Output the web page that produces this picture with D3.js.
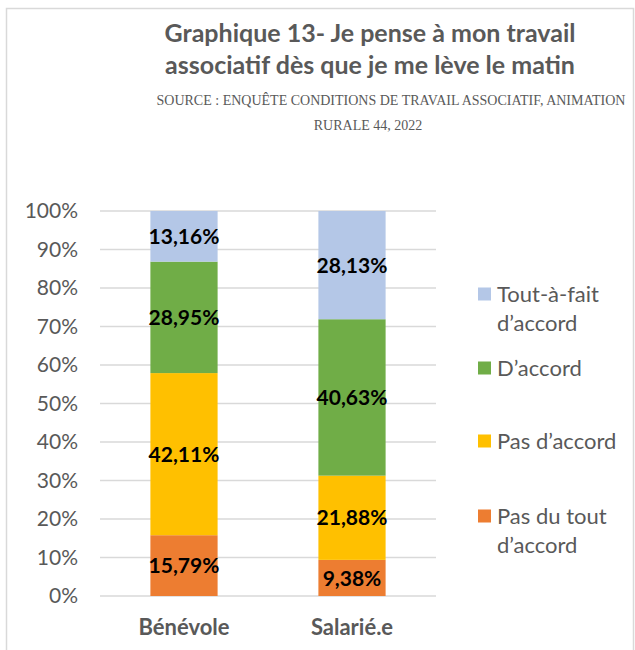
<!DOCTYPE html>
<html>
<head>
<meta charset="utf-8">
<script src="https://cdn.jsdelivr.net/npm/d3@7"></script>
<style>
  body { margin: 0; background: #fff; }
  svg text { font-family: Lato, "Open Sans", sans-serif; }
</style>
</head>
<body>
<div id="chart"></div>
<script>
var categories = ["Bénévole", "Salarié.e"]
var seriesNames = ["Pas du tout d’accord", "Pas d’accord", "D’accord", "Tout-à-fait d’accord"]
var pasDuTout = [15.79, 9.38]
var pasDaccord = [42.11, 21.88]
var daccord = [28.95, 40.63]
var toutAFait = [13.16, 28.13]
var yTicks = [0, 10, 20, 30, 40, 50, 60, 70, 80, 90, 100]
var colors = ["#ED7D31", "#FFC000", "#70AD47", "#B4C7E7"]
var legendLines = [["Pas du tout", "d’accord"], ["Pas d’accord"], ["D’accord"], ["Tout-à-fait", "d’accord"]]

var width = 635, height = 650
var svg = d3.select("#chart").append("svg")
    .attr("width", width)
    .attr("height", height)

// outer frame
svg.append("rect")
  .attr("x", 6.5).attr("y", 8.5)
  .attr("width", 627).attr("height", 660)
  .attr("fill", "none")
  .attr("stroke", "#d9d9d9")
  .attr("stroke-width", 1.5)

// title
var title = ["Graphique 13- Je pense à mon travail", "associatif dès que je me lève le matin"]
svg.selectAll(".title").data(title).enter().append("text")
  .attr("x", 370)
  .attr("y", function(d, i) { return 42 + i * 32 })
  .attr("text-anchor", "middle")
  .attr("font-size", 25)
  .attr("font-weight", "bold")
  .attr("fill", "#595959")
  .text(function(d) { return d })

var source = [
  {t: "SOURCE : ENQUÊTE CONDITIONS DE TRAVAIL ASSOCIATIF, ANIMATION", x: 391, y: 105},
  {t: "RURALE 44, 2022", x: 368, y: 130}
]
svg.selectAll(".source").data(source).enter().append("text")
  .attr("x", function(d) { return d.x })
  .attr("y", function(d) { return d.y })
  .attr("text-anchor", "middle")
  .attr("font-size", 14)
  .attr("fill", "#595959")
  .style("font-family", "'Liberation Serif', 'DejaVu Serif', serif")
  .text(function(d) { return d.t })

var plot = {left: 100, right: 436, top: 211, bottom: 596}

var x = d3.scaleBand()
  .domain(categories)
  .range([plot.left, plot.right])
  .paddingInner(0.6)
  .paddingOuter(0.3)

var y = d3.scaleLinear()
  .domain([0, 100])
  .range([plot.bottom, plot.top])

// gridlines
svg.append("g").selectAll("line").data(yTicks).enter().append("line")
  .attr("x1", plot.left).attr("x2", plot.right)
  .attr("y1", function(d) { return y(d) })
  .attr("y2", function(d) { return y(d) })
  .attr("stroke", "#d9d9d9")
  .attr("stroke-width", 1.5)

// y axis labels
var yAxis = svg.append("g")
  .attr("transform", "translate(" + (plot.left - 22) + ",0)")
  .call(d3.axisLeft(y).tickValues(yTicks).tickSize(0).tickPadding(0)
    .tickFormat(function(d) { return d + "%" }))
yAxis.select(".domain").remove()
yAxis.selectAll("text")
  .attr("font-size", 21)
  .attr("fill", "#595959")
  .attr("font-family", null)

// x axis labels
var xAxis = svg.append("g")
  .attr("transform", "translate(0," + plot.bottom + ")")
  .call(d3.axisBottom(x).tickSize(0).tickPadding(23))
xAxis.select(".domain").remove()
xAxis.selectAll("text")
  .attr("font-size", 22)
  .attr("font-weight", "bold")
  .attr("fill", "#595959")
  .attr("font-family", null)

// stack
var rows = categories.map(function(c, i) {
  return {cat: c, s0: pasDuTout[i], s1: pasDaccord[i], s2: daccord[i], s3: toutAFait[i]}
})
var stack = d3.stack().keys(["s0", "s1", "s2", "s3"])
var layers = stack(rows)

var fmt = function(v) { return v.toFixed(2).replace(".", ",") + "%" }

var layerG = svg.selectAll(".layer").data(layers).enter().append("g")
  .attr("fill", function(d, i) { return colors[i] })

layerG.selectAll("rect").data(function(d) { return d }).enter().append("rect")
  .attr("x", function(d) { return x(d.data.cat) })
  .attr("width", x.bandwidth())
  .attr("y", function(d) { return y(Math.min(d[1], 100)) })
  .attr("height", function(d) { return y(d[0]) - y(Math.min(d[1], 100)) })

layerG.selectAll("text").data(function(d) { return d }).enter().append("text")
  .attr("x", function(d) { return x(d.data.cat) + x.bandwidth() / 2 })
  .attr("y", function(d) { return y((d[0] + Math.min(d[1], 100)) / 2) })
  .attr("dy", "0.36em")
  .attr("text-anchor", "middle")
  .attr("font-size", 21)
  .attr("font-weight", "bold")
  .attr("fill", "#000")
  .text(function(d) { return fmt(d[1] - d[0]) })

// legend
var legendY = [516, 441, 368, 294]
var legend = svg.selectAll(".legend").data(seriesNames).enter().append("g")
  .attr("transform", function(d, i) { return "translate(478," + legendY[i] + ")" })

legend.append("rect")
  .attr("x", 0).attr("y", -6.5)
  .attr("width", 13).attr("height", 13)
  .attr("fill", function(d, i) { return colors[i] })

legend.each(function(d, i) {
  d3.select(this).selectAll("text").data(legendLines[i]).enter().append("text")
    .attr("x", 19)
    .attr("y", function(t, j) { return j * 29 })
    .attr("dy", "0.36em")
    .attr("font-size", 22)
    .attr("fill", "#595959")
    .text(function(t) { return t })
})
</script>
</body>
</html>
